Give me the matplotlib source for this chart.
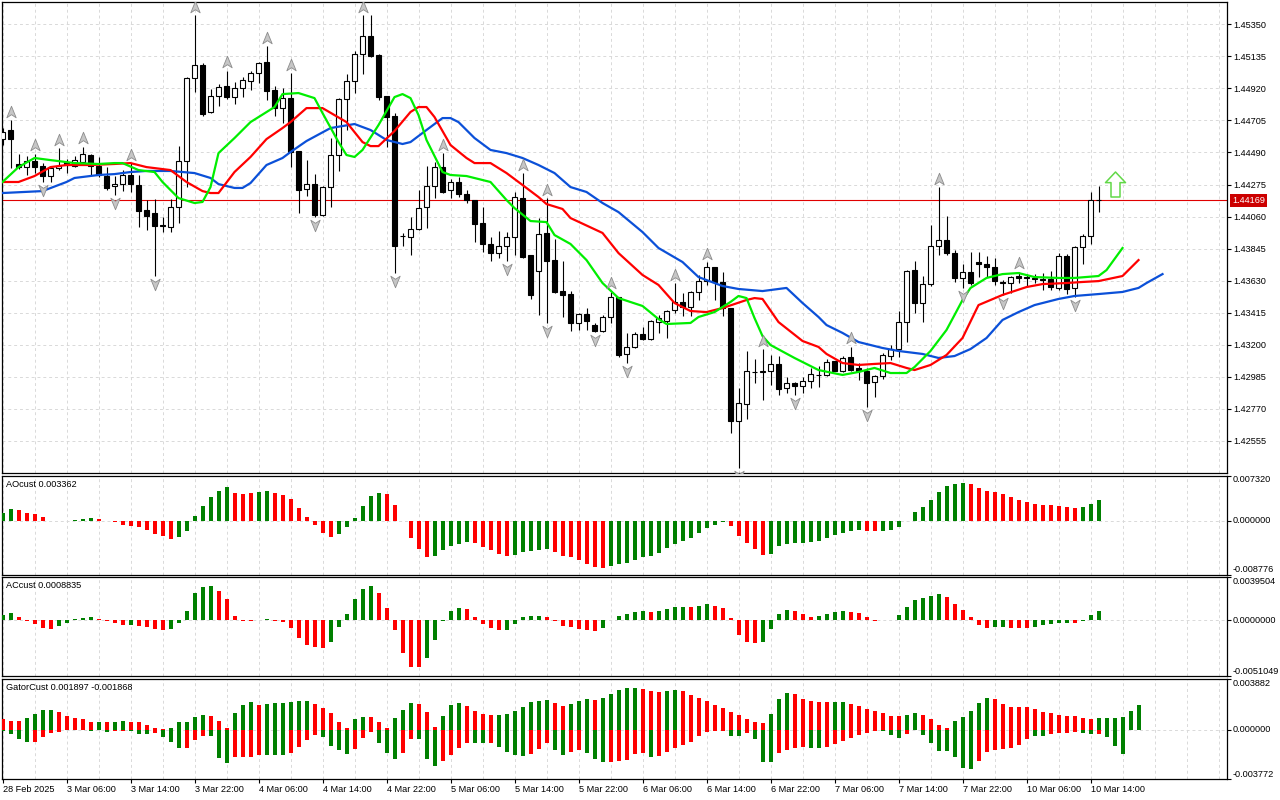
import matplotlib
matplotlib.use("Agg")
import matplotlib.pyplot as plt
from matplotlib.path import Path
from matplotlib.transforms import offset_copy
import numpy as np

plt.rcParams['font.family'] = ['Liberation Sans', 'DejaVu Sans']
FS = 6.6

# ---- hourly candles (bar 0 = 28 Feb 22:00, last bar = 10 Mar 15:00) ----
open_ = [1.44580, 1.44641, 1.44413, 1.44392, 1.44433, 1.44399, 1.44332, 1.44386, 1.44426, 1.44399,
         1.44426, 1.44473, 1.44399, 1.44332, 1.44265, 1.44278, 1.44339, 1.44272, 1.44104, 1.44084,
         1.44003, 1.43990, 1.44124, 1.44433, 1.44990, 1.45077, 1.44762, 1.44869, 1.44936, 1.44862,
         1.44922, 1.44969, 1.45023, 1.45097, 1.44909, 1.44788, 1.44855, 1.44500, 1.44245, 1.44278,
         1.44070, 1.44258, 1.44473, 1.44849, 1.44969, 1.45151, 1.45271, 1.45144, 1.44869, 1.44735,
         1.43929, 1.43923, 1.43976, 1.44124, 1.44265, 1.44392, 1.44238, 1.44292, 1.44211, 1.44171,
         1.44017, 1.43876, 1.43815, 1.43862, 1.43923, 1.44184, 1.43802, 1.43695, 1.43950, 1.43768,
         1.43560, 1.43540, 1.43346, 1.43406, 1.43332, 1.43292, 1.43386, 1.43520, 1.43138, 1.43185,
         1.43272, 1.43238, 1.43352, 1.43359, 1.43433, 1.43487, 1.43453, 1.43554, 1.43627, 1.43721,
         1.43621, 1.43446, 1.42688, 1.42802, 1.43017, 1.43017, 1.43024, 1.43071, 1.42910, 1.42943,
         1.42923, 1.42956, 1.42997, 1.42997, 1.43091, 1.43024, 1.43118, 1.43044, 1.43024, 1.42950,
         1.42990, 1.43124, 1.43171, 1.43352, 1.43701, 1.43480, 1.43607, 1.43862, 1.43903, 1.43815,
         1.43648, 1.43688, 1.43755, 1.43742, 1.43721, 1.43621, 1.43614, 1.43661, 1.43654, 1.43648,
         1.43641, 1.43641, 1.43581, 1.43795, 1.43581, 1.43856, 1.43929, 1.44171]
high = [1.44654, 1.44708, 1.44480, 1.44466, 1.44480, 1.44419, 1.44399, 1.44520, 1.44446, 1.44466,
        1.44527, 1.44480, 1.44460, 1.44392, 1.44332, 1.44372, 1.44419, 1.44339, 1.44171, 1.44178,
        1.44057, 1.44178, 1.44533, 1.44996, 1.45412, 1.45090, 1.44916, 1.44949, 1.45037, 1.44963,
        1.44996, 1.45037, 1.45097, 1.45204, 1.44936, 1.44922, 1.45023, 1.44500, 1.44439, 1.44345,
        1.44265, 1.44587, 1.44855, 1.45016, 1.45171, 1.45412, 1.45412, 1.45151, 1.44869, 1.44755,
        1.43950, 1.44057, 1.44238, 1.44399, 1.44426, 1.44486, 1.44312, 1.44325, 1.44238, 1.44171,
        1.44124, 1.43923, 1.43963, 1.43956, 1.44225, 1.44352, 1.43802, 1.44050, 1.44184, 1.43909,
        1.43762, 1.43560, 1.43413, 1.43446, 1.43346, 1.43399, 1.43554, 1.43520, 1.43279, 1.43285,
        1.43319, 1.43366, 1.43399, 1.43433, 1.43614, 1.43547, 1.43560, 1.43668, 1.43755, 1.43721,
        1.43688, 1.43446, 1.42910, 1.43158, 1.43104, 1.43171, 1.43131, 1.43124, 1.42983, 1.42950,
        1.42983, 1.43044, 1.43057, 1.43104, 1.43091, 1.43124, 1.43185, 1.43077, 1.43044, 1.42997,
        1.43144, 1.43198, 1.43426, 1.43701, 1.43762, 1.43661, 1.44003, 1.44258, 1.44064, 1.43835,
        1.43742, 1.43822, 1.43822, 1.43795, 1.43782, 1.43634, 1.43661, 1.43688, 1.43674, 1.43674,
        1.43681, 1.43695, 1.43815, 1.43809, 1.43862, 1.43943, 1.44225, 1.44265]
low = [1.44540, 1.44386, 1.44379, 1.44339, 1.44352, 1.44292, 1.44292, 1.44372, 1.44352, 1.44392,
       1.44406, 1.44339, 1.44325, 1.44238, 1.44205, 1.44231, 1.44225, 1.43990, 1.43970, 1.43661,
       1.43956, 1.43956, 1.44017, 1.44258, 1.44896, 1.44735, 1.44755, 1.44802, 1.44849, 1.44815,
       1.44862, 1.44909, 1.44956, 1.44842, 1.44735, 1.44688, 1.44392, 1.44084, 1.44198, 1.44057,
       1.44064, 1.44124, 1.44366, 1.44641, 1.44889, 1.45016, 1.45131, 1.44842, 1.44527, 1.43681,
       1.43862, 1.43802, 1.43970, 1.43983, 1.44184, 1.44218, 1.44184, 1.44191, 1.44151, 1.43889,
       1.43822, 1.43762, 1.43782, 1.43762, 1.43802, 1.43782, 1.43507, 1.43399, 1.43346, 1.43547,
       1.43386, 1.43292, 1.43299, 1.43299, 1.43285, 1.43285, 1.43346, 1.43118, 1.43077, 1.43178,
       1.43232, 1.43232, 1.43279, 1.43245, 1.43413, 1.43393, 1.43393, 1.43500, 1.43601, 1.43500,
       1.43393, 1.42608, 1.42373, 1.42702, 1.42943, 1.42829, 1.42930, 1.42863, 1.42876, 1.42863,
       1.42876, 1.42910, 1.42916, 1.42990, 1.43024, 1.43017, 1.43024, 1.42963, 1.42782, 1.42849,
       1.42970, 1.43097, 1.43118, 1.43218, 1.43413, 1.43352, 1.43594, 1.43802, 1.43802, 1.43621,
       1.43581, 1.43601, 1.43654, 1.43654, 1.43601, 1.43534, 1.43547, 1.43614, 1.43594, 1.43614,
       1.43567, 1.43567, 1.43567, 1.43540, 1.43520, 1.43742, 1.43876, 1.44090]
close = [1.44627, 1.44580, 1.44392, 1.44433, 1.44392, 1.44332, 1.44386, 1.44399, 1.44406, 1.44439,
         1.44480, 1.44399, 1.44339, 1.44252, 1.44278, 1.44339, 1.44278, 1.44097, 1.44064, 1.43997,
         1.43997, 1.44124, 1.44433, 1.44990, 1.45077, 1.44748, 1.44869, 1.44929, 1.44862, 1.44922,
         1.44976, 1.45023, 1.45090, 1.44902, 1.44788, 1.44855, 1.44493, 1.44238, 1.44278, 1.44070,
         1.44258, 1.44473, 1.44849, 1.44969, 1.45151, 1.45271, 1.45137, 1.44862, 1.44728, 1.43862,
         1.43932, 1.43976, 1.44117, 1.44265, 1.44392, 1.44225, 1.44292, 1.44211, 1.44171, 1.44010,
         1.43876, 1.43815, 1.43862, 1.43923, 1.44191, 1.43789, 1.43534, 1.43943, 1.43762, 1.43554,
         1.43534, 1.43346, 1.43406, 1.43359, 1.43292, 1.43386, 1.43520, 1.43131, 1.43185, 1.43272,
         1.43238, 1.43359, 1.43379, 1.43426, 1.43487, 1.43453, 1.43554, 1.43627, 1.43721, 1.43621,
         1.43446, 1.42688, 1.42809, 1.43024, 1.43014, 1.43024, 1.43071, 1.42903, 1.42943, 1.42923,
         1.42956, 1.43003, 1.42999, 1.43084, 1.43024, 1.43111, 1.43030, 1.43024, 1.42943, 1.42990,
         1.43131, 1.43171, 1.43352, 1.43695, 1.43480, 1.43607, 1.43862, 1.43903, 1.43815, 1.43648,
         1.43688, 1.43614, 1.43742, 1.43721, 1.43627, 1.43614, 1.43654, 1.43648, 1.43651, 1.43641,
         1.43634, 1.43587, 1.43795, 1.43574, 1.43856, 1.43929, 1.44171, 1.44169]
last_price = 1.44169

# ---- alligator lines (bar index, price) ----
jaw_bars = [0, 5, 8, 9, 12, 14, 16, 18, 21, 24, 26, 27, 29, 30, 31, 33, 35, 36, 38, 41,
            44, 46, 48, 50, 51, 53, 55, 56, 57, 59, 61, 63, 65, 67, 69, 71, 73, 75, 77, 80,
            82, 85, 87, 90, 92, 95, 98, 100, 102, 103, 105, 107, 110, 112, 115, 117, 119, 121, 123, 125,
            127, 129, 132, 134, 137, 140, 142, 143, 145]
jaw_vals = [1.44218, 1.44231, 1.44292, 1.44319, 1.44339, 1.44345, 1.44359, 1.44366, 1.44366, 1.44352,
            1.44319, 1.44278, 1.44252, 1.44252, 1.44285, 1.44406, 1.44453, 1.44493, 1.44567, 1.44654,
            1.44681, 1.44641, 1.44574, 1.44547, 1.44560, 1.44641, 1.44721, 1.44721, 1.44694, 1.44587,
            1.44507, 1.44486, 1.44453, 1.44406, 1.44352, 1.44258, 1.44225, 1.44151, 1.44090, 1.43956,
            1.43849, 1.43755, 1.43654, 1.43594, 1.43574, 1.43560, 1.43581, 1.43480, 1.43386, 1.43332,
            1.43279, 1.43218, 1.43178, 1.43158, 1.43138, 1.43111, 1.43124, 1.43171, 1.43245, 1.43366,
            1.43419, 1.43466, 1.43507, 1.43527, 1.43540, 1.43554, 1.43581, 1.43614, 1.43674]
teeth_bars = [0, 2, 4, 6, 8, 11, 14, 16, 18, 21, 23, 25, 26, 27, 29, 31, 33, 35, 36, 38,
              40, 43, 45, 46, 47, 49, 51, 52, 53, 54, 56, 58, 59, 61, 63, 65, 67, 68, 70, 71,
              75, 77, 80, 82, 84, 86, 88, 90, 93, 94, 95, 97, 100, 102, 103, 105, 107, 109, 111, 113,
              114, 116, 118, 120, 122, 125, 128, 130, 133, 135, 137, 140, 142]
teeth_vals = [1.44292, 1.44292, 1.44332, 1.44392, 1.44406, 1.44406, 1.44413, 1.44419, 1.44392, 1.44372,
              1.44292, 1.44231, 1.44218, 1.44218, 1.44359, 1.44460, 1.44580, 1.44654, 1.44694, 1.44788,
              1.44788, 1.44694, 1.44560, 1.44533, 1.44533, 1.44634, 1.44762, 1.44795, 1.44795, 1.44728,
              1.44540, 1.44453, 1.44419, 1.44419, 1.44352, 1.44272, 1.44191, 1.44144, 1.44111, 1.44050,
              1.43950, 1.43815, 1.43668, 1.43601, 1.43480, 1.43426, 1.43419, 1.43446, 1.43500, 1.43513,
              1.43507, 1.43352, 1.43225, 1.43185, 1.43138, 1.43077, 1.43064, 1.43071, 1.43077, 1.43044,
              1.43030, 1.43064, 1.43131, 1.43245, 1.43466, 1.43534, 1.43587, 1.43607, 1.43614, 1.43621,
              1.43627, 1.43661, 1.43768]
lips_bars = [0, 2, 4, 6, 9, 12, 14, 15, 17, 19, 20, 22, 24, 25, 26, 27, 29, 31, 34, 35,
             37, 39, 40, 42, 43, 44, 45, 47, 49, 50, 51, 52, 53, 55, 56, 58, 61, 63, 64, 66,
             68, 69, 71, 73, 75, 77, 80, 82, 83, 86, 87, 89, 91, 92, 93, 94, 95, 96, 99, 102,
             105, 107, 109, 111, 113, 114, 116, 118, 119, 120, 121, 123, 125, 127, 129, 132, 134, 137, 138, 140]
lips_vals = [1.44292, 1.44392, 1.44453, 1.44439, 1.44419, 1.44413, 1.44419, 1.44419, 1.44372, 1.44359,
             1.44292, 1.44184, 1.44151, 1.44158, 1.44258, 1.44486, 1.44587, 1.44694, 1.44795, 1.44882,
             1.44889, 1.44855, 1.44755, 1.44560, 1.44473, 1.44460, 1.44507, 1.44674, 1.44862, 1.44882,
             1.44855, 1.44741, 1.44574, 1.44359, 1.44339, 1.44332, 1.44292, 1.44171, 1.44117, 1.44030,
             1.44023, 1.43936, 1.43876, 1.43768, 1.43614, 1.43513, 1.43460, 1.43372, 1.43339, 1.43346,
             1.43386, 1.43419, 1.43487, 1.43527, 1.43513, 1.43379, 1.43258, 1.43198, 1.43111, 1.43030,
             1.42997, 1.43017, 1.43044, 1.43010, 1.43010, 1.43050, 1.43158, 1.43299, 1.43399, 1.43500,
             1.43581, 1.43648, 1.43674, 1.43681, 1.43654, 1.43648, 1.43648, 1.43661, 1.43701, 1.43849]

# ---- fractals and signal ----
fractal_up_bars = [1, 4, 7, 10, 16, 24, 28, 33, 36, 45, 55, 65, 68, 76, 84, 88, 95, 106, 117, 127]
fractal_down_bars = [5, 14, 19, 39, 49, 63, 68, 74, 78, 92, 99, 108, 120, 125, 134]
signal_bar = [139]
signal_price = [1.44278]

# ---- oscillators ----
ao = [0.00129, 0.00185, 0.00168, 0.00129, 0.00101, 0.00050, -0.00008, -0.00005, -0.00006, 0.00003,
      0.00017, 0.00034, 0.00017, -0.00005, -0.00028, -0.00067, -0.00084, -0.00106, -0.00146, -0.00218,
      -0.00252, -0.00297, -0.00263, -0.00168, 0.00067, 0.00235, 0.00381, 0.00487, 0.00538, 0.00454,
      0.00437, 0.00454, 0.00470, 0.00476, 0.00454, 0.00420, 0.00353, 0.00207, 0.00056, -0.00067,
      -0.00197, -0.00269, -0.00218, -0.00112, 0.00039, 0.00235, 0.00392, 0.00454, 0.00426, 0.00252,
      -0.00008, -0.00280, -0.00470, -0.00588, -0.00571, -0.00487, -0.00420, -0.00386, -0.00353, -0.00370,
      -0.00437, -0.00487, -0.00538, -0.00571, -0.00554, -0.00504, -0.00502, -0.00487, -0.00470, -0.00504,
      -0.00571, -0.00588, -0.00638, -0.00706, -0.00756, -0.00773, -0.00739, -0.00706, -0.00689, -0.00638,
      -0.00588, -0.00571, -0.00521, -0.00454, -0.00386, -0.00336, -0.00286, -0.00202, -0.00118, -0.00067,
      -0.00028, -0.00084, -0.00252, -0.00370, -0.00470, -0.00554, -0.00538, -0.00420, -0.00386, -0.00370,
      -0.00368, -0.00353, -0.00336, -0.00286, -0.00235, -0.00202, -0.00168, -0.00151, -0.00168, -0.00170,
      -0.00166, -0.00151, -0.00101, -0.00011, 0.00134, 0.00218, 0.00336, 0.00470, 0.00554, 0.00588,
      0.00605, 0.00588, 0.00521, 0.00487, 0.00470, 0.00437, 0.00386, 0.00336, 0.00302, 0.00269,
      0.00252, 0.00250, 0.00241, 0.00218, 0.00202, 0.00218, 0.00269, 0.003362]
ao_dir = ("GGRRRRRGRG" "GGRRRRRRRR" "RRGGGGGGGR" "RRGGRRRRRR" "RRGGGGGGRR" "RRRRGGGGGR"
          "RRRRGGGGGR" "RRRRRRGGGG" "GGGGGGGGGG" "GRRRRRGGGG" "GGGGGGGGRR" "GGGGGGGGGG"
          "GRRRRRRRRR" "RRRRRGGG")

ac = [0.000483, 0.000634, 0.000332, -0.00006, -0.000332, -0.000725, -0.000815, -0.000544, -0.000242, 0.000121,
      0.000181, 0.000272, 0.000091, -0.00003, -0.000211, -0.000423, -0.000423, -0.000544, -0.000634, -0.000815,
      -0.000906, -0.000815, -0.000242, 0.000815, 0.002446, 0.00308, 0.003171, 0.002718, 0.001903, 0.000362,
      -0.000091, -0.0001, 0.00003, 0.000151, -0.00002, -0.000151, -0.000725, -0.0016, -0.002265, -0.002416,
      -0.002537, -0.001993, -0.000634, 0.000544, 0.001903, 0.002899, 0.003171, 0.002446, 0.001087, -0.000906,
      -0.00299, -0.004258, -0.00427, -0.003443, -0.001812, -0.00006, 0.000815, 0.001087, 0.000997, 0.000272,
      -0.000362, -0.000725, -0.000906, -0.0009, -0.000362, 0.000272, 0.000362, 0.00037, 0.000272, -0.00003,
      -0.000544, -0.000634, -0.000815, -0.000906, -0.000997, -0.000725, 0.00002, 0.000362, 0.000544, 0.000725,
      0.000815, 0.000725, 0.000815, 0.000997, 0.001178, 0.00119, 0.00117, 0.001268, 0.00145, 0.001268,
      0.001087, 0.000181, -0.001359, -0.001993, -0.002084, -0.001993, -0.000815, 0.000544, 0.000906, 0.000815,
      0.000544, 0.000272, 0.000362, 0.000544, 0.000725, 0.000815, 0.0008, 0.000634, 0.000272, -0.00006,
      0.00003, 0.00006, 0.000453, 0.001178, 0.001812, 0.001993, 0.002174, 0.002356, 0.002114, 0.00145,
      0.000906, 0.000272, -0.000453, -0.000725, -0.000634, -0.00062, -0.000725, -0.00073, -0.00074, -0.000634,
      -0.000453, -0.000362, -0.000272, -0.00026, -0.00028, -0.00003, 0.000453, 0.0008835]
ac_dir = ("GGRRRRRGGG" "GGRRRRGRRR" "RGGGGGGRRR" "RRGGRRRRRR" "RGGGGGGRRR" "RRRGGGGGRR"
          "RRRGGGGGRR" "RRRRRGGGGG" "GRGGGGRGGR" "RRRRRGGGGR" "RRGGGGRRRR" "GGGGGGGGRR"
          "RRRRGGRRRG" "GGGGRGGG")

gator_up = [0.00079, 0.00069, 0.00069, 0.00092, 0.00122, 0.00153, 0.00153, 0.00138, 0.00107, 0.00092,
            0.00077, 0.00061, 0.00061, 0.00061, 0.00061, 0.00069, 0.00061, 0.00054, 0.00031, 0.00015,
            0.00003, 0.00010, 0.00061, 0.00061, 0.00099, 0.00115, 0.00107, 0.00069, 0.00008, 0.00130,
            0.00191, 0.00214, 0.00191, 0.00199, 0.00207, 0.00207, 0.00214, 0.00222, 0.00222, 0.00199,
            0.00168, 0.00130, 0.00054, 0.00015, 0.00077, 0.00099, 0.00099, 0.00054, 0.00015, 0.00092,
            0.00153, 0.00207, 0.00199, 0.00138, 0.00023, 0.00107, 0.00191, 0.00207, 0.00184, 0.00145,
            0.00122, 0.00115, 0.00115, 0.00122, 0.00145, 0.00176, 0.00214, 0.00222, 0.00230, 0.00207,
            0.00184, 0.00199, 0.00222, 0.00237, 0.00230, 0.00245, 0.00275, 0.00306, 0.00321, 0.00322,
            0.00314, 0.00298, 0.00291, 0.00298, 0.00306, 0.00298, 0.00268, 0.00245, 0.00222, 0.00191,
            0.00168, 0.00138, 0.00115, 0.00077, 0.00054, 0.00053, 0.00122, 0.00237, 0.00283, 0.00275,
            0.00237, 0.00222, 0.00214, 0.00213, 0.00214, 0.00215, 0.00199, 0.00184, 0.00161, 0.00145,
            0.00130, 0.00107, 0.00106, 0.00115, 0.00130, 0.00115, 0.00084, 0.00038, 0.00015, 0.00069,
            0.00099, 0.00145, 0.00207, 0.00245, 0.00237, 0.00199, 0.00176, 0.00175, 0.00174, 0.00161,
            0.00138, 0.00130, 0.00115, 0.00107, 0.00106, 0.00092, 0.00084, 0.00085, 0.00086, 0.00092,
            0.00099, 0.00145, 0.001897]
gator_up_dir = ("RRRGGGGRRR" "RRGRGGRRRR" "RGGGGGRRRG" "GGRGGGGGGR" "RRRRGGRRRG" "GGRRRGGGRR"
                "RRGGGGGGGR" "RGGGRGGGGG" "RRRGGRRRRR" "RRRRRRGGGR" "RRRRGGRRRR" "RRRGGRRRRG"
                "GGGGRRRRRR" "RRRRRRRGGG" "GGG")
gator_dn = [-0.00015, -0.00036, -0.00074, -0.00097, -0.00097, -0.00059, -0.00028, -0.00020, -0.00005, -0.00005,
            -0.00005, -0.00013, -0.00005, -0.00020, -0.00013, -0.00012, -0.00013, -0.00036, -0.00037, -0.00028,
            -0.00059, -0.00097, -0.00143, -0.00142, -0.00082, -0.00051, -0.00052, -0.00219, -0.00258, -0.00212,
            -0.00211, -0.00210, -0.00196, -0.00197, -0.00198, -0.00199, -0.00181, -0.00135, -0.00082, -0.00043,
            -0.00059, -0.00128, -0.00158, -0.00189, -0.00150, -0.00066, -0.00020, -0.00105, -0.00181, -0.00227,
            -0.00181, -0.00074, -0.00075, -0.00227, -0.00281, -0.00242, -0.00196, -0.00143, -0.00105, -0.00106,
            -0.00107, -0.00104, -0.00135, -0.00173, -0.00196, -0.00204, -0.00189, -0.00150, -0.00105, -0.00158,
            -0.00196, -0.00173, -0.00158, -0.00181, -0.00227, -0.00250, -0.00249, -0.00242, -0.00235, -0.00189,
            -0.00181, -0.00212, -0.00204, -0.00173, -0.00143, -0.00120, -0.00097, -0.00051, -0.00020, -0.00013,
            -0.00012, -0.00051, -0.00052, -0.00028, -0.00074, -0.00250, -0.00251, -0.00181, -0.00158, -0.00143,
            -0.00135, -0.00143, -0.00144, -0.00135, -0.00112, -0.00089, -0.00066, -0.00043, -0.00028, -0.00013,
            -0.00014, -0.00043, -0.00066, -0.00036, -0.00005, -0.00043, -0.00105, -0.00166, -0.00167, -0.00212,
            -0.00296, -0.00303, -0.00242, -0.00173, -0.00158, -0.00150, -0.00143, -0.00120, -0.00074, -0.00051,
            -0.00052, -0.00036, -0.00028, -0.00027, -0.00020, -0.00028, -0.00036, -0.00035, -0.00059, -0.00128,
            -0.001868]
gator_dn_dir = ("GGGGRRRRRR" "RGRGRRGGGR" "GGGRRRGGGR" "RRRGGGRRRR" "GGGGRRRGGG" "RRGGGRRRRG"
                "GRGGGGRRRG" "GRRGGGRRRR" "RGRRRRRRRR" "RGGRGGGRRR" "RGGRRRRRRR" "GGGRRGGGGG"
                "GGRRRRRRRG" "GRRRRGGRGGG")

# ---- axes labels ----
price_ticks = [1.45350, 1.45135, 1.44920, 1.44705, 1.44490, 1.44275, 1.44060,
               1.43845, 1.43630, 1.43415, 1.43200, 1.42985, 1.42770, 1.42555]
ao_ticks = [0.007320, 0.0, -0.008776]
ac_ticks = [0.0039504, 0.0, -0.0051049]
gator_ticks = [0.003882, 0.0, -0.003772]
time_bars = [0, 8, 16, 24, 32, 40, 48, 56, 64, 72, 80, 88, 96, 104, 112, 120, 128, 136]
time_labels = ['28 Feb 2025', '3 Mar 06:00', '3 Mar 14:00', '3 Mar 22:00', '4 Mar 06:00',
               '4 Mar 14:00', '4 Mar 22:00', '5 Mar 06:00', '5 Mar 14:00', '5 Mar 22:00',
               '6 Mar 06:00', '6 Mar 14:00', '6 Mar 22:00', '7 Mar 06:00', '7 Mar 14:00',
               '7 Mar 22:00', '10 Mar 06:00', '10 Mar 14:00']

GREEN, RED = '#008000', '#ff0000'
GRID = '#d9d9d9'


def bar_colors(code, n):
    cols = [GREEN if ch == 'G' else RED for ch in code]
    return (cols + cols[-1:] * n)[:n]


fig = plt.figure(figsize=(12.8, 8), dpi=100)
fig.patch.set_facecolor('white')
W_PX, H_PX = 1280.0, 800.0
LEFT, RIGHT = 2.3, 1227.0


def add_panel(top, bottom):
    return fig.add_axes([LEFT / W_PX, 1 - bottom / H_PX,
                         (RIGHT - LEFT) / W_PX, (bottom - top) / H_PX])


ax_main = add_panel(2.0, 473.0)
ax_ao = add_panel(475.5, 574.5)
ax_ac = add_panel(577.0, 676.3)
ax_gt = add_panel(679.0, 778.6)
all_axes = [ax_main, ax_ao, ax_ac, ax_gt]

for ax in all_axes:
    ax.set_xlim(-0.025, 153.06)
    for s in ax.spines.values():
        s.set_color('black')
        s.set_linewidth(0.9)
    for b in range(0, 154, 4):
        ax.axvline(b, color=GRID, lw=0.7, ls=(0, (3, 3)), zorder=0)
    ax.tick_params(axis='x', bottom=False, labelbottom=False)
    ax.tick_params(axis='y', left=False, labelleft=False, right=True, labelright=True,
                   direction='out', length=3, width=0.8, pad=1.5, labelsize=FS)

# ---- main price panel ----
ax_main.set_ylim(1.42339, 1.45500)
ax_main.set_yticks(price_ticks)
ax_main.set_yticklabels([f"{p:.5f}" for p in price_ticks])
for p in price_ticks:
    ax_main.axhline(p, color=GRID, lw=0.7, ls=(0, (3, 3)), zorder=0)
ax_main.axhline(last_price, color='#e00000', lw=0.8, zorder=1.5)

o, h, l, c = (np.array(v) for v in (open_, high, low, close))
x = np.arange(len(c))
ax_main.vlines(x, l, h, color='black', lw=0.8, zorder=3)
body_col = ['white' if cc >= oo else 'black' for oo, cc in zip(o, c)]
ax_main.bar(x, np.abs(c - o), bottom=np.minimum(o, c), width=0.56, color=body_col,
            edgecolor='black', linewidth=0.8, zorder=4)

ax_main.plot(jaw_bars, jaw_vals, color='#0b50d8', lw=1.6, zorder=5)
ax_main.plot(teeth_bars, teeth_vals, color='#ff0000', lw=1.6, zorder=5)
ax_main.plot(lips_bars, lips_vals, color='#00ee00', lw=1.6, zorder=5)

codes4 = [Path.MOVETO, Path.LINETO, Path.LINETO, Path.LINETO, Path.CLOSEPOLY]
up_mark = Path([(0, 1), (0.75, -0.85), (0, -0.35), (-0.75, -0.85), (0, 1)], codes4)
dn_mark = Path([(0, -1), (0.75, 0.85), (0, 0.35), (-0.75, 0.85), (0, -1)], codes4)
up_tr = offset_copy(ax_main.transData, fig=fig, x=0, y=8.5, units='dots')
dn_tr = offset_copy(ax_main.transData, fig=fig, x=0, y=-8, units='dots')
ax_main.plot(fractal_up_bars, h[fractal_up_bars], ls='none', marker=up_mark, ms=9,
             mfc='#c6c6c6', mec='#8c8c8c', mew=0.6, transform=up_tr, zorder=6)
ax_main.plot(fractal_down_bars, l[fractal_down_bars], ls='none', marker=dn_mark, ms=9,
             mfc='#c6c6c6', mec='#8c8c8c', mew=0.6, transform=dn_tr, zorder=6)

arrow = Path([(0, 1), (0.8, 0.15), (0.36, 0.15), (0.36, -1), (-0.36, -1), (-0.36, 0.15),
              (-0.8, 0.15), (0, 1)],
             [Path.MOVETO] + [Path.LINETO] * 6 + [Path.CLOSEPOLY])
ax_main.plot(signal_bar, signal_price, ls='none', marker=arrow, ms=18, mfc='white',
             mec='#62d848', mew=1.1, zorder=7)

price_tr = offset_copy(ax_main.get_yaxis_transform(), fig=fig, x=5.5, y=0, units='dots')
ax_main.text(1.0, last_price, f"{last_price:.5f}", transform=price_tr, ha='left', va='center',
             color='white', fontsize=FS, clip_on=False, zorder=10,
             bbox=dict(boxstyle='square,pad=0.22', fc='#cc0000', ec='none'))


# ---- oscillator panels ----
def side_labels(ax, ticks, fmt):
    ax.set_ylim(ticks[2], ticks[0])
    ax.set_yticks(ticks)
    ax.set_yticklabels([])
    ax.axhline(0.0, color=GRID, lw=0.7, ls=(0, (3, 3)), zorder=0)
    tr = offset_copy(ax.get_yaxis_transform(), fig=fig, x=6, y=0, units='dots')
    for v, va in zip(ticks, ['top', 'center', 'bottom']):
        ax.text(1.0, v, fmt.format(v), transform=tr, ha='left', va=va,
                fontsize=FS, clip_on=False)


def panel_title(ax, text):
    tr = offset_copy(ax.transAxes, fig=fig, x=3.5, y=-9, units='dots')
    ax.text(0.0, 1.0, text, transform=tr, ha='left', va='center', fontsize=FS, zorder=10)


ax_ao.bar(np.arange(len(ao)), ao, width=0.5, color=bar_colors(ao_dir, len(ao)),
          linewidth=0, zorder=3)
side_labels(ax_ao, ao_ticks, "{:.6f}")
panel_title(ax_ao, "AOcust 0.003362")

ax_ac.bar(np.arange(len(ac)), ac, width=0.5, color=bar_colors(ac_dir, len(ac)),
          linewidth=0, zorder=3)
side_labels(ax_ac, ac_ticks, "{:.7f}")
panel_title(ax_ac, "ACcust 0.0008835")

ax_gt.bar(np.arange(len(gator_up)), gator_up, width=0.5,
          color=bar_colors(gator_up_dir, len(gator_up)), linewidth=0, zorder=3)
ax_gt.bar(np.arange(len(gator_dn)), gator_dn, width=0.5,
          color=bar_colors(gator_dn_dir, len(gator_dn)), linewidth=0, zorder=3)
side_labels(ax_gt, gator_ticks, "{:.6f}")
panel_title(ax_gt, "GatorCust 0.001897 -0.001868")

ax_gt.tick_params(axis='x', bottom=True, labelbottom=True, direction='out',
                  length=3, width=0.8, pad=1.5, labelsize=FS)
ax_gt.set_xticks(time_bars)
ax_gt.set_xticklabels(time_labels, ha='left')

fig.savefig("out.png", dpi=100, facecolor='white')
